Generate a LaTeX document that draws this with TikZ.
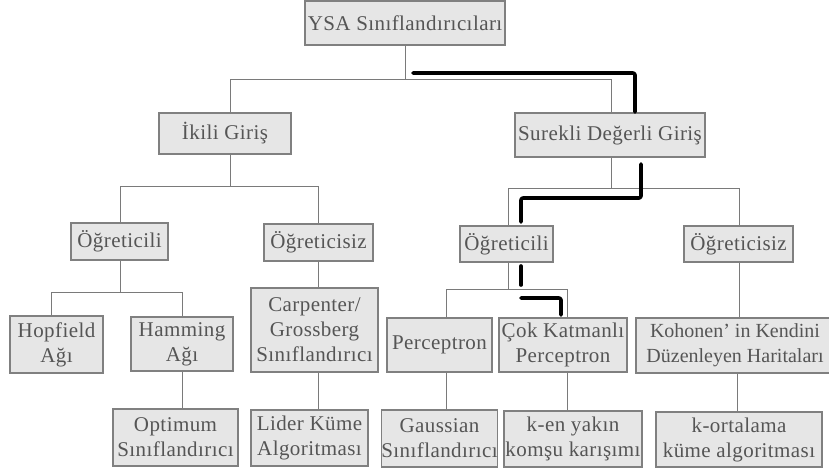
\documentclass[tikz,border=0pt]{standalone}
\usepackage{fontspec}
\setmainfont{Liberation Serif}[LetterSpace=2]
\definecolor{boxfill}{HTML}{E6E6E6}
\definecolor{boxline}{HTML}{808080}
\definecolor{txt}{HTML}{555555}
\definecolor{wire}{HTML}{7A7A7A}
\begin{document}
\begin{tikzpicture}[x=1pt,y=-1pt,
  box/.style={draw=boxline,fill=boxfill,line width=1.1pt,inner sep=0pt,
    align=center,text=txt,font=\fontsize{21}{25}\selectfont},
  wirestyle/.style={draw=wire,line width=1pt},
  marker/.style={draw=black,line width=3.6pt,line cap=round,line join=round,rounded corners=2pt}]
\useasboundingbox (0,0) rectangle (829,472);

% tree boxes
\node[box,minimum width=200pt,minimum height=44pt] (ysa) at (405,23) {YSA Sınıflandırıcıları};
\node[box,minimum width=132pt,minimum height=41pt] (ikili) at (225,133.5) {İkili Giriş};
\node[box,minimum width=190pt,minimum height=44pt] (surekli) at (610,135) {Surekli Değerli Giriş};
\node[box,minimum width=97pt,minimum height=37pt] (ogrA) at (119.5,241.5) {Öğreticili};
\node[box,minimum width=109pt,minimum height=37pt] (ogsA) at (318.5,242.5) {Öğreticisiz};
\node[box,minimum width=93pt,minimum height=57pt] (hopfield) at (56.5,344.5) {Hopfield\\Ağı};
\node[box,minimum width=102pt,minimum height=54pt] (hamming) at (182,344) {Hamming\\Ağı};
\node[box,minimum width=125pt,minimum height=57pt] (optimum) at (175.5,437.5) {Optimum\\Sınıflandırıcı};
\node[box,minimum width=127pt,minimum height=84pt] (carpenter) at (314.5,330) {Carpenter/\\Grossberg\\Sınıflandırıcı};
\node[box,minimum width=117pt,minimum height=56pt] (lider) at (309.5,438) {Lider Küme\\Algoritması};
\node[box,minimum width=93pt,minimum height=36pt] (ogrB) at (506.5,244) {Öğreticili};
\node[box,minimum width=109pt,minimum height=36pt] (ogsB) at (738.5,244) {Öğreticisiz};
\node[box,minimum width=105pt,minimum height=54pt] (perceptron) at (439.5,345) {Perceptron};
\node[box,minimum width=128pt,minimum height=54pt] (cok) at (563,345) {Çok Katmanlı\\Perceptron};
% this box runs past the right edge; its text is kept just inside
\node[box,minimum width=198pt,minimum height=55pt,
  font=\fontsize{20}{25}\selectfont\addfontfeatures{LetterSpace=0}] (kohonen) at (735,345.5)
  {Kohonen’ in Kendini\\Düzenleyen Haritaları};
\node[box,minimum width=113pt,minimum height=57pt] (gaussian) at (439.5,438.5) {Gaussian\\Sınıflandırıcı};
\node[box,minimum width=138pt,minimum height=56pt] (ken) at (573,439) {k-en yakın\\komşu karışımı};
\node[box,minimum width=166pt,minimum height=55pt] (kort) at (739,439.5) {k-ortalama\\küme algoritması};

% tree connectors
\draw[wirestyle] (ysa.south) -- (405,79);
\draw[wirestyle] (230,0 |- ikili.north) -- (230,79) -- (611,79) -- (611,0 |- surekli.north);
\draw[wirestyle] (230,0 |- ikili.south) -- (230,186);
\draw[wirestyle] (120,0 |- ogrA.north) -- (120,186) -- (318,186) -- (318,0 |- ogsA.north);
\draw[wirestyle] (120,0 |- ogrA.south) -- (120,292);
\draw[wirestyle] (51,0 |- hopfield.north) -- (51,292) -- (182,292) -- (182,0 |- hamming.north);
\draw[wirestyle] (182,0 |- hamming.south) -- (182,0 |- optimum.north);
\draw[wirestyle] (318,0 |- ogsA.south) -- (318,0 |- carpenter.north);
\draw[wirestyle] (318,0 |- carpenter.south) -- (318,0 |- lider.north);
\draw[wirestyle] (611,0 |- surekli.south) -- (611,188);
\draw[wirestyle] (508,0 |- ogrB.north) -- (508,188) -- (739,188) -- (739,0 |- ogsB.north);
\draw[wirestyle] (508,0 |- ogrB.south) -- (508,289);
\draw[wirestyle] (446,0 |- perceptron.north) -- (446,289) -- (567,289) -- (567,0 |- cok.north);
\draw[wirestyle] (446,0 |- perceptron.south) -- (446,0 |- gaussian.north);
\draw[wirestyle] (567,0 |- cok.south) -- (567,0 |- ken.north);
\draw[wirestyle] (739,0 |- ogsB.south) -- (739,0 |- kohonen.north);
\draw[wirestyle] (737,0 |- kohonen.south) -- (737,0 |- kort.north);

% heavy path marks
\coordinate (m1a) at (413,73);
\coordinate (m1b) at (635,73);
\coordinate (m1c) at (635,112);
\coordinate (m2a) at (641,164);
\coordinate (m2b) at (641,198);
\coordinate (m2c) at (521,198);
\coordinate (m2d) at (521,222);
\coordinate (m3a) at (521,266);
\coordinate (m3b) at (521,285);
\coordinate (m4a) at (521,298);
\coordinate (m4b) at (561,298);
\coordinate (m4c) at (561,315);
\draw[marker] (m1a) -- (m1b) -- (m1c);
\draw[marker] (m2a) -- (m2b) -- (m2c) -- (m2d);
\draw[marker] (m3a) -- (m3b);
\draw[marker] (m4a) -- (m4b) -- (m4c);
\end{tikzpicture}
\end{document}
